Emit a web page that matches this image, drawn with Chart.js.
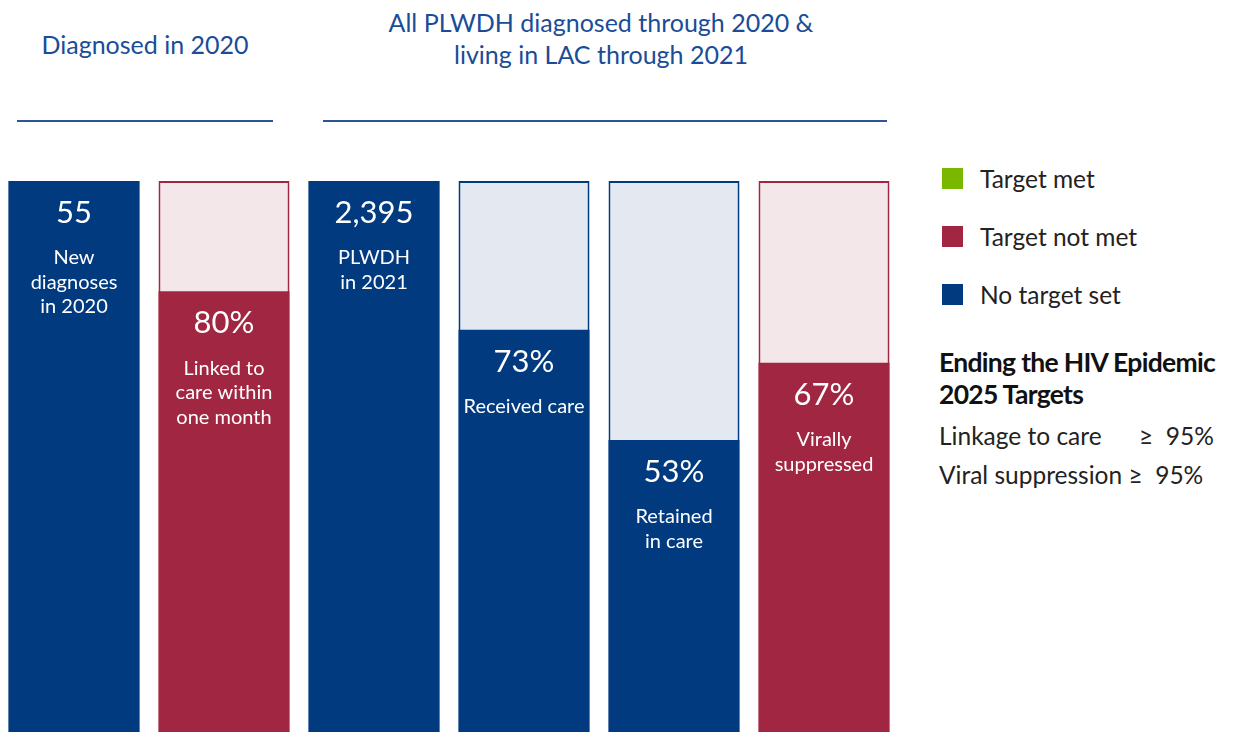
<!DOCTYPE html>
<html>
<head>
<meta charset="utf-8">
<script src="https://cdn.jsdelivr.net/npm/chart.js@4.4.1/dist/chart.umd.min.js"></script>
<style>
  html, body { margin: 0; padding: 0; background: #fff; }
  body { width: 1236px; height: 732px; position: relative; overflow: hidden; font-family: Lato, "Open Sans", sans-serif; }
  #wrap { position: absolute; left: -1px; top: 181px; width: 900px; height: 551px; }
  .head { position: absolute; color: #1A4C98; font-size: 25px; font-weight: 400; text-align: center; line-height: 32px; white-space: nowrap; }
  .rule { position: absolute; height: 2px; background: #2B5597; top: 120px; }
  .leg { position: absolute; left: 942px; font-size: 24.5px; color: #222; font-weight: 400; }
  .sw { position: absolute; width: 21px; height: 21px; left: 0; }
  .lt { position: absolute; left: 38px; white-space: nowrap; line-height: 24px; }
  .tg { position: absolute; left: 939px; font-size: 24.5px; color: #222; white-space: nowrap; line-height: 26px; font-weight: 400; }
</style>
</head>
<body>
<div class="head" style="left:0px; width:290px; top:28px;">Diagnosed in 2020</div>
<div class="head" style="left:360px; width:482px; top:6px;">All PLWDH diagnosed through 2020 &amp;<br>living in LAC through 2021</div>
<div class="rule" style="left:17px; width:256px;"></div>
<div class="rule" style="left:323px; width:564px;"></div>

<div id="legend"></div>

<div class="tg" style="top:346px; font-size:26.5px; font-weight:700; letter-spacing:-0.7px; line-height:32px; color:#111;">Ending the HIV Epidemic<br>2025 Targets</div>
<div class="tg" style="top:423px;">Linkage to care</div>
<div class="tg" style="top:423px; left:1139px;">&ge;&nbsp; 95%</div>
<div class="tg" style="top:462px;">Viral suppression &ge;&nbsp; 95%</div>

<div id="wrap"><canvas id="c"></canvas></div>

<script>
const categories = ['New diagnoses', 'Linked to care', 'PLWDH', 'Received care', 'Retained in care', 'Virally suppressed'];
const values = [100, 80, 100, 73, 53, 67];
const fullValues = [100, 100, 100, 100, 100, 100];
const valueLabels = ['55', '80%', '2,395', '73%', '53%', '67%'];
const descLabels = [['New', 'diagnoses', 'in 2020'], ['Linked to', 'care within', 'one month'], ['PLWDH', 'in 2021'], ['Received care'], ['Retained', 'in care'], ['Virally', 'suppressed']];
const status = ['No target set', 'Target not met', 'No target set', 'No target set', 'No target set', 'Target not met'];
const legendItems = ['Target met', 'Target not met', 'No target set'];

const COLORS = {
  'Target met': { solid: '#7AB800', light: '#EEF5E0' },
  'Target not met': { solid: '#A12641', light: '#F4E7EA' },
  'No target set': { solid: '#023A80', light: '#E4E9F1' }
};

// legend (HTML)
const legTops = [168, 226, 284];
const legEl = document.getElementById('legend');
legendItems.forEach((name, i) => {
  const d = document.createElement('div');
  d.className = 'leg';
  d.style.top = legTops[i] + 'px';
  d.innerHTML = '<div class="sw" style="background:' + COLORS[name].solid + '; top:0px;"></div>' +
                '<div class="lt" style="top:-1px;">' + name + '</div>';
  legEl.appendChild(d);
});

const barText = {
  id: 'barText',
  afterDatasetsDraw(chart) {
    const ctx = chart.ctx;
    const meta = chart.getDatasetMeta(0);
    ctx.save();
    ctx.fillStyle = '#ffffff';
    ctx.textAlign = 'center';
    ctx.textBaseline = 'middle';
    meta.data.forEach((bar, i) => {
      const top = bar.y;
      ctx.font = '31px Lato, "Open Sans", sans-serif';
      ctx.fillText(valueLabels[i], bar.x, top + 32);
      ctx.font = '20px Lato, "Open Sans", sans-serif';
      descLabels[i].forEach((line, j) => {
        ctx.fillText(line, bar.x, top + 77 + j * 24.5);
      });
    });
    ctx.restore();
  }
};

new Chart(document.getElementById('c'), {
  type: 'bar',
  data: {
    labels: categories,
    datasets: [
      {
        label: 'Value',
        data: values,
        backgroundColor: status.map(s => COLORS[s].solid),
        borderWidth: 0,
        order: 1,
        barPercentage: 131 / 150,
        categoryPercentage: 1
      },
      {
        label: 'Total',
        data: fullValues,
        backgroundColor: status.map(s => COLORS[s].light),
        borderColor: status.map(s => COLORS[s].solid),
        borderWidth: 2,
        order: 2,
        barPercentage: 131 / 150,
        categoryPercentage: 1
      }
    ]
  },
  options: {
    responsive: true,
    maintainAspectRatio: false,
    animation: false,
    layout: { padding: 0 },
    plugins: { legend: { display: false }, tooltip: { enabled: false } },
    scales: {
      x: { display: false, stacked: true },
      y: { display: false, stacked: false, min: 0, max: 100 }
    }
  },
  plugins: [barText]
});
</script>
</body>
</html>
